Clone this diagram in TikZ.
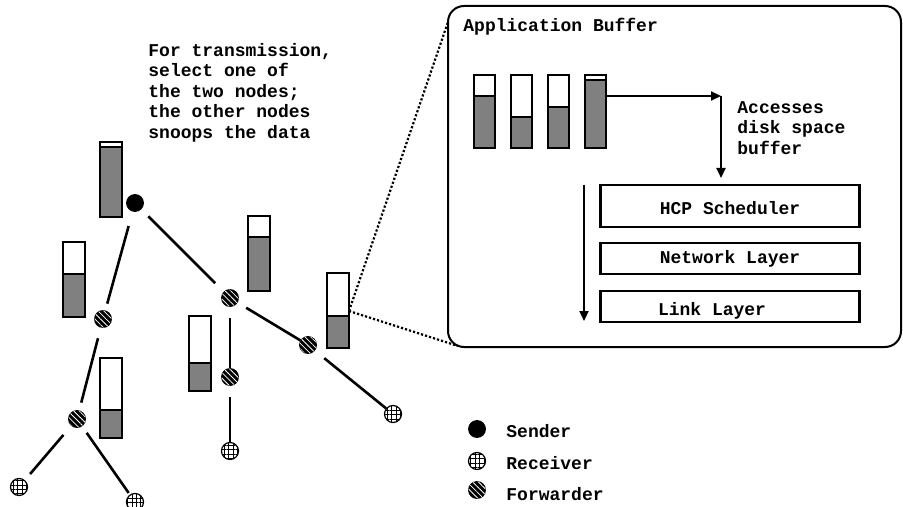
\documentclass[tikz,border=0pt]{standalone}
\usepackage{fontspec}
\setmonofont{Liberation Mono}
\usetikzlibrary{arrows.meta,patterns.meta}

\begin{document}
\begin{tikzpicture}[x=0.5pt,y=-0.5pt]
      \useasboundingbox (0,0) rectangle (903,507);
      \clip (0,0) rectangle (903,507);
      \tikzset{T/.style = {font=\ttfamily\bfseries\fontsize{9}{10.25}\selectfont, inner sep=0pt}}
      \tikzset{S/.style = {shape=circle, draw, fill=black, minimum size=8.5pt, inner sep=0pt}}
      \tikzset{R/.style = {shape=circle, draw, line width=0.6pt, fill=white, minimum size=8.5pt, inner sep=0pt, postaction={pattern={Hatch[distance=2.2pt,line width=0.45pt]}}}}
      \tikzset{F/.style = {shape=circle, draw, fill=black, minimum size=8.5pt, inner sep=0pt, postaction={pattern={Lines[angle=-45,distance=2pt,line width=0.4pt]},pattern color=white}}}
      \tikzset{E/.style = {draw, line width=1.3pt}}
      \tikzset{B/.style = {draw, line width=1.3pt}}
      \tikzset{L/.style = {T, draw, line width=1.1pt, minimum width=129.5pt}}
      \tikzset{A/.style = {draw, line width=1pt, -{Triangle[length=5pt,width=4.5pt]}}}
      \tikzset{Z/.style = {draw, line width=1.1pt, dash pattern=on 1.1pt off 1pt}}
      % buffers in the network
      \foreach \bx/\by/\bh/\lv in {100/142/75/147, 63/242/75/274, 100/358/80/410, 248/216/75/237, 189/316/75/363, 327/273/75/316}
      {
        \fill[black!50] (\bx,\lv) rectangle (\bx+22,\by+\bh);
        \draw[B] (\bx,\lv) -- (\bx+22,\lv);
        \draw[B] (\bx,\by) rectangle (\bx+22,\by+\bh);
      }
      \node[S](snd) at (135,203) {};
      \node[F](f1) at (103,319) {};
      \node[F](f2) at (77,419) {};
      \node[R](r1) at (19,487) {};
      \node[R](r2) at (135,502) {};
      \node[F](f3) at (230,298) {};
      \node[F](f4) at (230,377) {};
      \node[R](r4) at (230,451) {};
      \node[F](f5) at (308,345) {};
      \node[R](r3) at (393,414) {};
      \draw[E,shorten <=7.5pt,shorten >=3.5pt](snd) -- (f1);
      \draw[E,shorten <=5pt,shorten >=6pt](snd) -- (f3);
      \draw[E,shorten <=5.5pt,shorten >=4pt](f1) -- (f2);
      \draw[E,shorten <=6pt,shorten >=4pt](f2) -- (r1);
      \draw[E,shorten <=4pt,shorten >=1pt](f2) -- (r2);
      \draw[E,shorten <=5.5pt](f3) -- (f4);
      \draw[E,shorten <=5.5pt](f4) -- (r4);
      \draw[E,shorten <=5pt](f3) -- (f5);
      \draw[E,shorten <=6pt](f5) -- (r3);
      \node[T,anchor=north west,align=left](note) at (148,43) {For transmission,\\select one of\\the two nodes;\\the other nodes\\snoops the data};
      % zoomed node
      \draw[line width=1pt,rounded corners=8pt] (448,6) rectangle (901,347);
      \coordinate (tap) at (349,311);
      \coordinate (zt) at (448,22);
      \coordinate (zb) at (458,346);
      \draw[Z](tap) -- (zt);
      \draw[Z](tap) -- (zb);
      \node[T,anchor=base west](title) at (463,32) {Application Buffer};
      \foreach \bx/\lv in {474/96, 511/117, 548/107, 585/80}
      {
        \fill[black!50] (\bx,\lv) rectangle (\bx+21,148);
        \draw[B] (\bx,\lv) -- (\bx+21,\lv);
        \draw[B] (\bx,75) rectangle (\bx+21,148);
      }
      \coordinate (b4) at (606,96);
      \coordinate (turn) at (721,96);
      \coordinate (hcptop) at (721,178);
      \draw[A](b4) -- (turn);
      \draw[A](turn) -- (hcptop);
      \node[T,anchor=north west,align=left](acc) at (737,101) {Accesses\\disk space\\buffer};
      \node[L,minimum height=21pt,text height=9pt](hcp) at (730,206) {HCP Scheduler};
      \node[L,minimum height=15.5pt](net) at (730,258.5) {Network Layer};
      \node[L,minimum height=15.5pt](link) at (730,306.5) {};
      \node[T](linktxt) at (712,311) {Link Layer};
      \coordinate (ftop) at (584,185);
      \coordinate (fbot) at (584,321);
      \draw[A](ftop) -- (fbot);
      % legend
      \node[S](ks) at (477,429) {};
      \node[R](kr) at (477,461) {};
      \node[F](kf) at (477,490) {};
      \node[T,anchor=base west](kst) at (506,437) {Sender};
      \node[T,anchor=base west](krt) at (506,469) {Receiver};
      \node[T,anchor=base west](kft) at (506,500) {Forwarder};
    \end{tikzpicture}
\end{document}
